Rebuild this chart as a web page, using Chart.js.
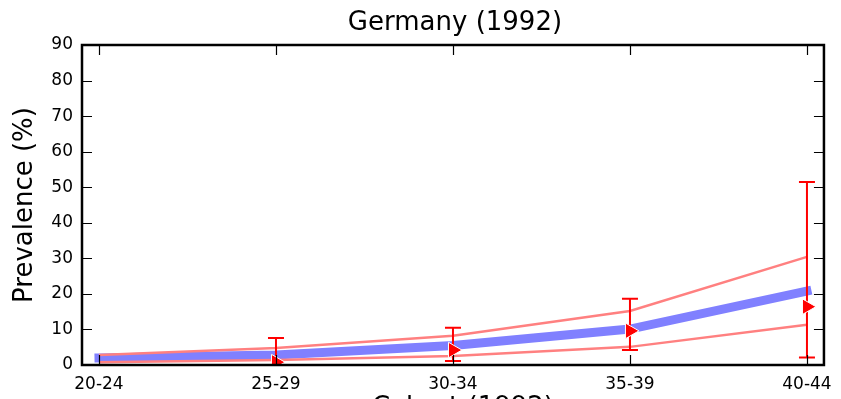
<!DOCTYPE html>
<html>
<head>
<meta charset="utf-8">
<script src="https://cdn.jsdelivr.net/npm/chart.js@4.4.0/dist/chart.umd.min.js"></script>
<style>
  html, body { margin: 0; padding: 0; background: #fff; }
  #wrap { width: 841px; height: 399px; }
</style>
</head>
<body>
<div id="wrap"><canvas id="prevChart"></canvas></div>
<script>
// data
const ageGroups = ['20-24', '25-29', '30-34', '35-39', '40-44'];
const prevalence = [2.0, 2.8, 5.5, 10.1, 20.8];   // thick blue line
const upperBand = [2.8, 4.8, 8.2, 15.2, 30.4];    // upper light red line
const lowerBand = [0.8, 1.4, 2.5, 5.1, 11.3];     // lower light red line
const observed = [null, 0.8, 4.2, 9.6, 16.4];     // red triangles
const observedLow = [null, 0, 1.1, 4.2, 2.1];
const observedHigh = [null, 7.6, 10.5, 18.6, 51.5];
const yTicks = [0, 10, 20, 30, 40, 50, 60, 70, 80, 90];

const font = "'DejaVu Sans', sans-serif";

function toPoints(arr) {
    return arr.map((v, i) => ({ x: i, y: v }));
}

// error bars drawn just before the triangles so the markers sit on top
const errorBars = {
    id: 'errorBars',
    beforeDatasetDraw(chart, args) {
        if (args.index !== 0) return;
        const ctx = chart.ctx;
        const xs = chart.scales.x, ys = chart.scales.y;
        ctx.save();
        ctx.strokeStyle = '#ff0000';
        ctx.lineWidth = 2;
        for (let i = 0; i < observed.length; i++) {
            if (observedLow[i] == null) continue;
            const x = xs.getPixelForValue(i);
            const y1 = ys.getPixelForValue(observedLow[i]);
            const y2 = ys.getPixelForValue(observedHigh[i]);
            ctx.beginPath();
            ctx.moveTo(x, y1); ctx.lineTo(x, y2);
            ctx.moveTo(x - 8, y1); ctx.lineTo(x + 8, y1);
            ctx.moveTo(x - 8, y2); ctx.lineTo(x + 8, y2);
            ctx.stroke();
        }
        ctx.restore();
    }
};

// matplotlib-like frame with inward ticks on all four sides, plus titles
const frameTicks = {
    id: 'frameTicks',
    afterDraw(chart) {
        const ctx = chart.ctx;
        const a = chart.chartArea;
        const xs = chart.scales.x, ys = chart.scales.y;
        const midX = (a.left + a.right) / 2;
        ctx.save();
        ctx.strokeStyle = '#000';
        ctx.lineWidth = 1.2;
        ctx.beginPath();
        ageGroups.forEach((g, i) => {
            const x = Math.round(xs.getPixelForValue(i)) + 0.5;
            ctx.moveTo(x, a.bottom); ctx.lineTo(x, a.bottom - 10);
            ctx.moveTo(x, a.top); ctx.lineTo(x, a.top + 10);
        });
        yTicks.forEach(v => {
            const y = Math.round(ys.getPixelForValue(v)) + 0.5;
            ctx.moveTo(a.left, y); ctx.lineTo(a.left + 10, y);
            ctx.moveTo(a.right, y); ctx.lineTo(a.right - 10, y);
        });
        ctx.stroke();
        ctx.lineWidth = 2.5;
        ctx.strokeRect(a.left, a.top, a.right - a.left, a.bottom - a.top);

        ctx.fillStyle = '#000';
        ctx.textAlign = 'center';
        ctx.textBaseline = 'middle';
        ctx.font = '26px ' + font;
        ctx.fillText('Germany (1992)', midX + 2, 23);
        ctx.fillText('Cohort (1992)', midX + 10, 408);
        ctx.translate(25, (a.top + a.bottom) / 2);
        ctx.rotate(-Math.PI / 2);
        ctx.fillText('Prevalence (%)', 0, 0);
        ctx.restore();
    }
};

new Chart(document.getElementById('prevChart'), {
    type: 'line',
    data: {
        datasets: [
            {
                label: 'Observed',
                data: toPoints(observed),
                showLine: false,
                pointStyle: 'triangle',
                rotation: 90,
                pointRadius: 9,
                backgroundColor: '#ff0000',
                borderColor: '#ffffff',
                borderWidth: 1
            },
            {
                label: 'Upper',
                data: toPoints(upperBand),
                borderColor: '#ff8080',
                borderWidth: 2.5,
                pointRadius: 0,
                tension: 0
            },
            {
                label: 'Lower',
                data: toPoints(lowerBand),
                borderColor: '#ff8080',
                borderWidth: 2.5,
                pointRadius: 0,
                tension: 0
            },
            {
                label: 'Prevalence',
                data: toPoints(prevalence),
                borderColor: '#8080ff',
                borderWidth: 9,
                borderCapStyle: 'square',
                pointRadius: 0,
                tension: 0
            }
        ]
    },
    options: {
        responsive: true,
        maintainAspectRatio: false,
        animation: false,
        layout: { padding: { left: 0, right: 15, top: 45, bottom: 0 } },
        plugins: {
            legend: { display: false },
            tooltip: { enabled: false },
            title: { display: false }
        },
        scales: {
            x: {
                type: 'linear',
                min: -0.096,
                max: 4.096,
                afterBuildTicks(scale) {
                    scale.ticks = ageGroups.map((g, i) => ({ value: i }));
                },
                afterFit(scale) { scale.height = 34; },
                grid: { display: false, drawTicks: false },
                border: { display: false },
                ticks: {
                    color: '#000',
                    font: { family: font, size: 17 },
                    padding: 9,
                    maxRotation: 0,
                    autoSkip: false,
                    callback: v => ageGroups[v]
                }
            },
            y: {
                min: 0,
                max: 90,
                afterBuildTicks(scale) {
                    scale.ticks = yTicks.map(v => ({ value: v }));
                },
                afterFit(scale) { scale.width = 82; },
                grid: { display: false, drawTicks: false },
                border: { display: false },
                ticks: {
                    color: '#000',
                    font: { family: font, size: 17 },
                    padding: 9
                }
            }
        }
    },
    plugins: [errorBars, frameTicks]
});
</script>
</body>
</html>
